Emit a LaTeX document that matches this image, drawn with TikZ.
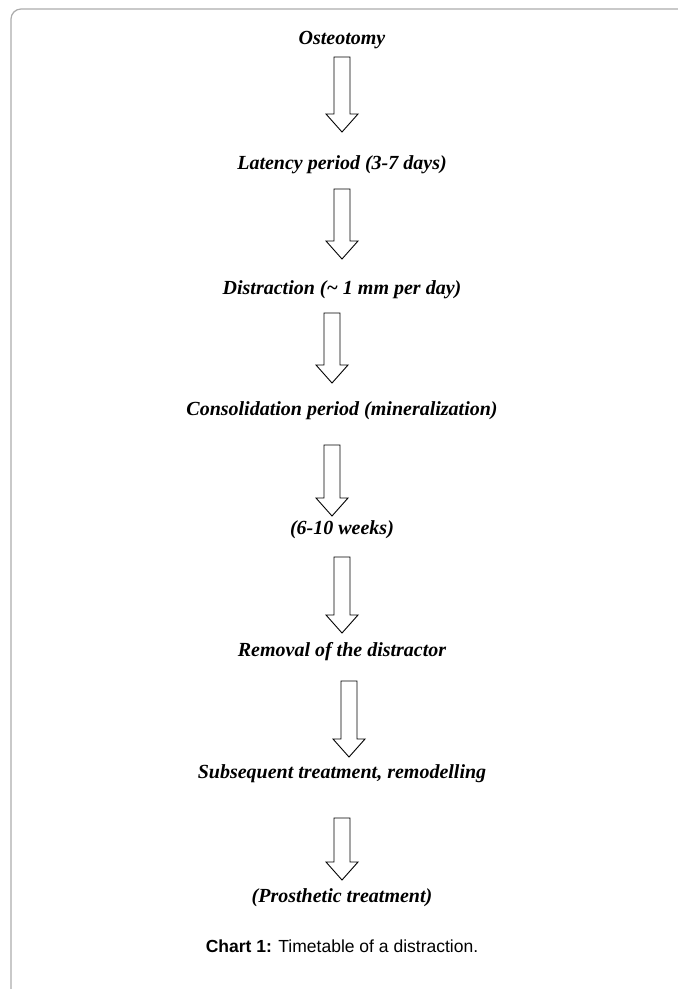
\documentclass[tikz,border=0pt]{standalone}
\usepackage{fontspec}
\setmainfont{Liberation Serif}
\setsansfont{Liberation Sans}
\usepackage{tikz}
\usetikzlibrary{calc}

\newcommand{\blockarrow}[2]{%
  \draw[arrowbox] let \p1=(#1), \p2=(#2) in
    (\x1-8pt,\y1) -- (\x1+8pt,\y1) -- (\x1+8pt,\y2+18pt) -- (\x1+16pt,\y2+18pt)
    -- (\x2,\y2) -- (\x1-16pt,\y2+18pt) -- (\x1-8pt,\y2+18pt) -- cycle;}

\begin{document}
\begin{tikzpicture}[x=1pt,y=-1pt,
  stage/.style={font=\fontsize{20}{24}\selectfont\bfseries\itshape, inner sep=0pt},
  arrowbox/.style={draw=black, line width=0.9pt, fill=white, line join=miter},
  frameline/.style={draw=gray!65, line width=1.2pt}]
\useasboundingbox (0,0) rectangle (678,989);
\draw[frameline, rounded corners=10pt] (11,989) -- (11,9) -- (678,9);

\node[stage] (ost) at (342,40) {Osteotomy};
\node[stage] (lat) at (342,165) {Latency period (3-7 days)};
\node[stage] (dis) at (342,290) {Distraction (\textasciitilde{} 1 mm per day)};
\node[stage] (con) at (342,411) {Consolidation period (mineralization)};
\node[stage] (wks) at (342,530) {(6-10 weeks)};
\node[stage] (rem) at (342,652) {Removal of the distractor};
\node[stage] (sub) at (342,774) {Subsequent treatment, remodelling};
\node[stage] (pro) at (342,898) {(Prosthetic treatment)};
\node[font=\sffamily\fontsize{17.5}{20}\selectfont, inner sep=0pt] (cap) at (342,946) {\textbf{Chart 1:} Timetable of a distraction.};

% arrows: top of shaft and tip
\coordinate (a1) at (342,57);  \coordinate (b1) at (342,132);
\coordinate (a2) at (342,189); \coordinate (b2) at (342,259);
\coordinate (a3) at (332,313); \coordinate (b3) at (332,383);
\coordinate (a4) at (332,445); \coordinate (b4) at (332,516);
\coordinate (a5) at (342,557); \coordinate (b5) at (342,633);
\coordinate (a6) at (349,681); \coordinate (b6) at (349,757);
\coordinate (a7) at (342,818); \coordinate (b7) at (342,880);
\foreach \i in {1,...,7} {\blockarrow{a\i}{b\i}}
\end{tikzpicture}
\end{document}
